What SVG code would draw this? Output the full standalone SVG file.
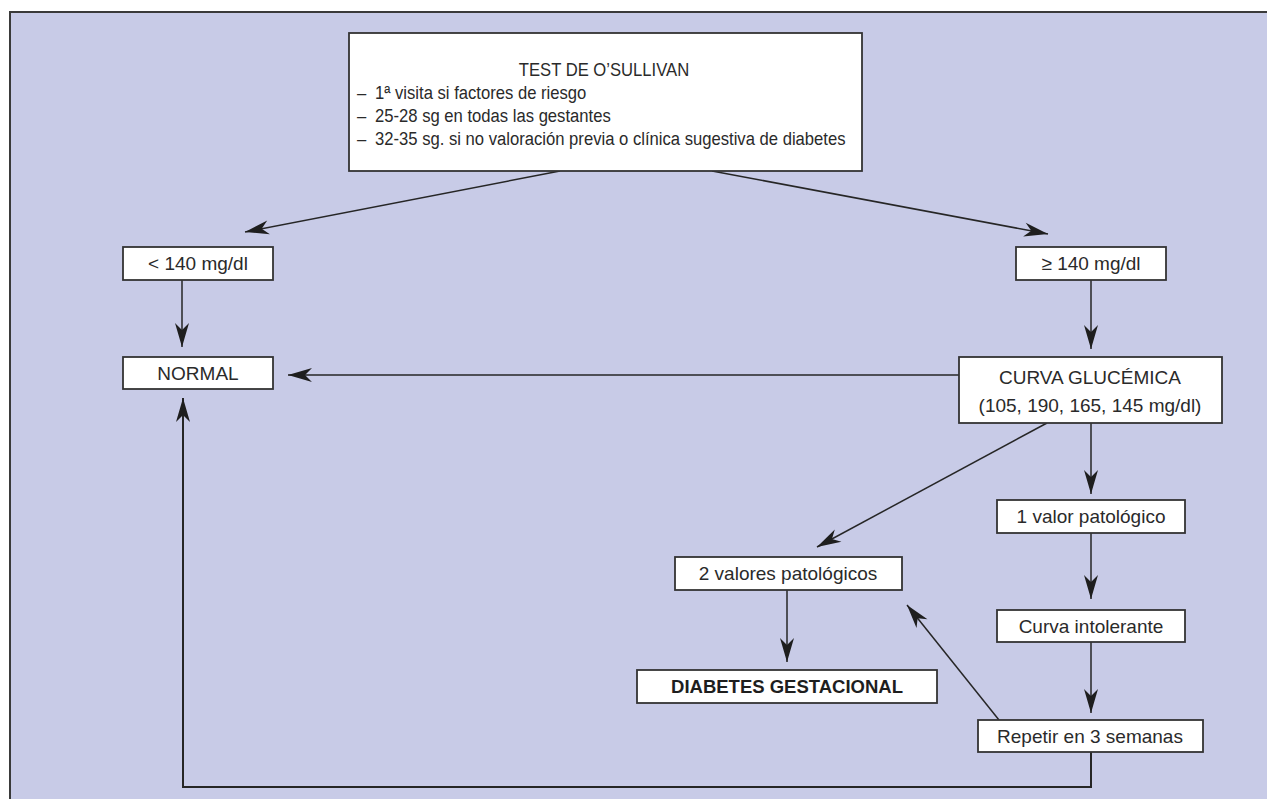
<svg xmlns="http://www.w3.org/2000/svg" width="1267" height="799" viewBox="0 0 1267 799">
<style>
.box{fill:#ffffff;stroke:#333333;stroke-width:1.8}
.t{font-family:"Liberation Sans",Arial,Helvetica,sans-serif;font-size:19px;fill:#2a2a2a}
.s{font-size:18.5px}
.c{text-anchor:middle}
.b{font-weight:bold;font-size:18.5px;fill:#1e1e1e}
.ln{fill:none;stroke:#262626;stroke-width:1.5}
</style>
<defs>
<marker id="ah" markerUnits="userSpaceOnUse" markerWidth="30" markerHeight="18" viewBox="-26 -9 28 18" refX="0" refY="0" orient="auto">
<path d="M0,0 L-24,-7 L-17,0 L-24,7 Z" fill="#1e1e1e"/>
</marker>
</defs>
<rect x="0" y="0" width="1267" height="799" fill="#ffffff"/>
<rect x="10" y="12" width="1257" height="787" fill="#c8cbe7"/>
<path d="M10,799 V12 H1267" fill="none" stroke="#3a3a3a" stroke-width="2"/>

<g id="connectors">
<line class="ln" x1="560" y1="171" x2="245" y2="232" marker-end="url(#ah)"/>
<line class="ln" x1="712" y1="171" x2="1048" y2="234" marker-end="url(#ah)"/>
<line class="ln" x1="182" y1="280" x2="182" y2="347" marker-end="url(#ah)"/>
<line class="ln" x1="1091" y1="280" x2="1091" y2="349" marker-end="url(#ah)"/>
<line class="ln" x1="959" y1="375" x2="288" y2="375" marker-end="url(#ah)"/>
<line class="ln" x1="1091" y1="423" x2="1091" y2="494" marker-end="url(#ah)"/>
<line class="ln" x1="1047" y1="423" x2="817" y2="547" marker-end="url(#ah)"/>
<line class="ln" x1="1091" y1="533" x2="1091" y2="599" marker-end="url(#ah)"/>
<line class="ln" x1="1091" y1="642" x2="1091" y2="713" marker-end="url(#ah)"/>
<line class="ln" x1="999" y1="720" x2="907" y2="605" marker-end="url(#ah)"/>
<line class="ln" x1="787" y1="590" x2="787" y2="662" marker-end="url(#ah)"/>
<polyline class="ln" style="stroke-width:2" points="1091,752 1091,787 183,787 183,398" marker-end="url(#ah)"/>
</g>

<g id="test">
<rect class="box" x="349" y="33" width="513" height="138"/>
<g transform="translate(604,0) scale(0.9,1)">
<text class="t s c" x="0" y="76">TEST DE O’SULLIVAN</text>
</g>
<g transform="translate(357,0) scale(0.9,1)">
<text class="t s" x="0" y="99">–<tspan x="20">1ª visita si factores de riesgo</tspan></text>
<text class="t s" x="0" y="122">–<tspan x="20">25-28 sg en todas las gestantes</tspan></text>
<text class="t s" x="0" y="145">–<tspan x="20">32-35 sg. si no valoración previa o clínica sugestiva de diabetes</tspan></text>
</g>
</g>

<g id="lt140">
<rect class="box" x="123" y="247" width="150" height="33"/>
<text class="t c" x="198" y="270">&lt; 140 mg/dl</text>
</g>

<g id="ge140">
<rect class="box" x="1016" y="247" width="150" height="33"/>
<text class="t c" x="1091" y="270">≥ 140 mg/dl</text>
</g>

<g id="normal">
<rect class="box" x="123" y="357" width="150" height="32"/>
<text class="t c" x="198" y="380">NORMAL</text>
</g>

<g id="curva">
<rect class="box" x="959" y="357" width="263" height="66"/>
<text class="t c" x="1090" y="384">CURVA GLUCÉMICA</text>
<text class="t c" x="1090" y="412">(105, 190, 165, 145 mg/dl)</text>
</g>

<g id="uno">
<rect class="box" x="997" y="500" width="188" height="33"/>
<text class="t c" x="1091" y="523">1 valor patológico</text>
</g>

<g id="dos">
<rect class="box" x="675" y="557" width="227" height="33"/>
<text class="t c" x="788" y="580">2 valores patológicos</text>
</g>

<g id="intolerante">
<rect class="box" x="997" y="610" width="188" height="32"/>
<text class="t c" x="1091" y="633">Curva intolerante</text>
</g>

<g id="repetir">
<rect class="box" x="978" y="720" width="225" height="32"/>
<text class="t c" x="1090" y="743">Repetir en 3 semanas</text>
</g>

<g id="diabetes">
<rect class="box" x="637" y="670" width="300" height="33"/>
<text class="t c b" x="787" y="693">DIABETES GESTACIONAL</text>
</g>
</svg>
